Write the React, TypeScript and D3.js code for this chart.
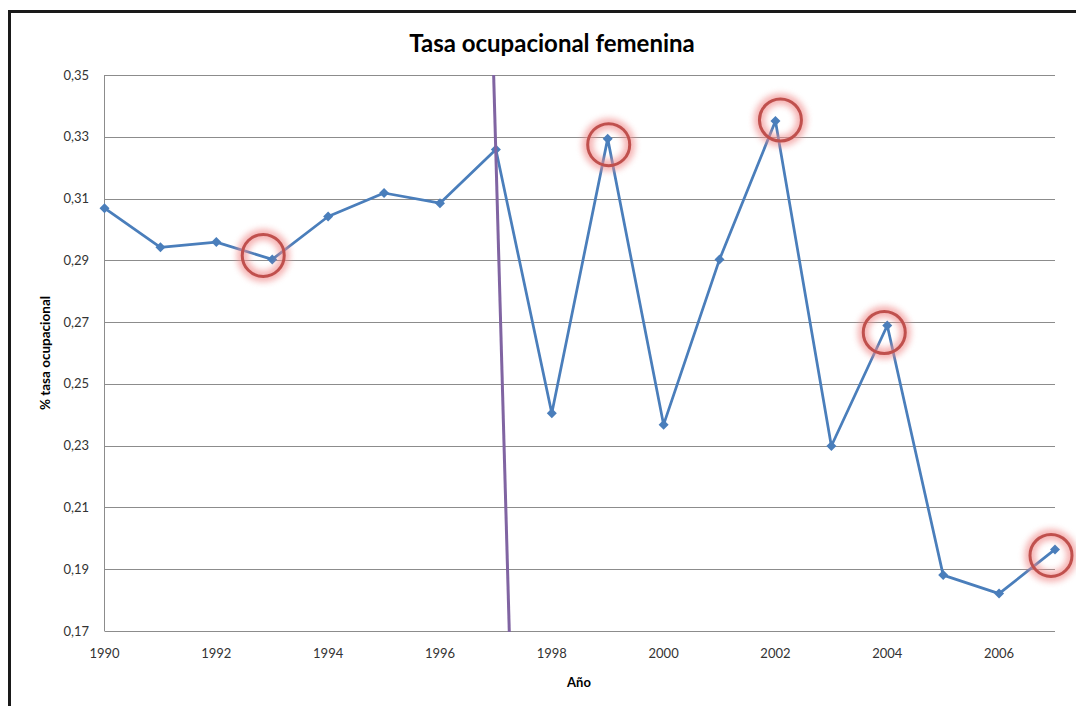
import * as d3 from "d3";

const years = [1990, 1991, 1992, 1993, 1994, 1995, 1996, 1997, 1998, 1999, 2000, 2001, 2002, 2003, 2004, 2005, 2006, 2007];
const rates = [0.3069, 0.2942, 0.2959, 0.2903, 0.3042, 0.3118, 0.3085, 0.3259, 0.2405, 0.3294, 0.2368, 0.2903, 0.3351, 0.2299, 0.2689, 0.1881, 0.1821, 0.1964];

const yTicks = [0.17, 0.19, 0.21, 0.23, 0.25, 0.27, 0.29, 0.31, 0.33, 0.35];
const xTicks = [1990, 1992, 1994, 1996, 1998, 2000, 2002, 2004, 2006];

// highlighted years (red circles) and the slanted marker line near 1997
const circledYears = [1993, 1999, 2002, 2004, 2007];
const circleNudge = [[-9, -4], [1, 6], [5, -1], [-3, 7], [-4, 6]];
const markerLine = { top: 1996.96, bottom: 1997.24 };

const W = 1076;
const H = 706;
const left = 104.5;
const right = 1055;
const top = 75;
const bottom = 631;

const fmt = (v: number) => v.toFixed(2).replace(".", ",");
const font = "Lato, 'Open Sans', sans-serif";

export default function App() {
    const x = d3.scaleLinear().domain([1990, 2007]).range([left, right]);
    const y = d3.scaleLinear().domain([0.17, 0.35]).range([bottom, top]);

    const pts = years.map((yr, i) => [x(yr), y(rates[i])] as [number, number]);
    const line = d3.line()(pts) || "";
    const diamond = d3.symbol(d3.symbolSquare, 50)() || "";

    return (
        <svg width={W} height={H} style={{ position: "absolute", left: 0, top: 0, background: "#fff" }}>
            <defs>
                <filter id="glow" x="-50%" y="-50%" width="200%" height="200%">
                    <feGaussianBlur stdDeviation="3" />
                </filter>
            </defs>
            <rect x={9.5} y={11.5} width={1200} height={900} fill="none" stroke="#1a1a1a" strokeWidth={3} />

            <text x={552} y={52} textAnchor="middle" fontFamily={font} fontWeight="bold" fontSize={24} fill="#000">
                Tasa ocupacional femenina
            </text>

            {yTicks.map((t) => (
                <g key={t}>
                    <line x1={left} x2={right} y1={Math.round(y(t)) + 0.5} y2={Math.round(y(t)) + 0.5} stroke="#8c8c8c" strokeWidth={1} />
                    <text x={89} y={y(t)} dy="0.35em" textAnchor="end" fontFamily={font} fontSize={13} fill="#333">
                        {fmt(t)}
                    </text>
                </g>
            ))}
            <line x1={left} x2={left} y1={top} y2={bottom} stroke="#8c8c8c" strokeWidth={1} />

            {xTicks.map((t) => (
                <text key={t} x={x(t)} y={658} textAnchor="middle" fontFamily={font} fontSize={13} fill="#333">
                    {t}
                </text>
            ))}

            <text x={579} y={687} textAnchor="middle" fontFamily={font} fontWeight="bold" fontSize={13} fill="#000">
                Año
            </text>
            <text transform="translate(50,353) rotate(-90)" textAnchor="middle" fontFamily={font} fontWeight="bold" fontSize={13.5} fill="#000">
                % tasa ocupacional
            </text>

            <path d={line} fill="none" stroke="#4a7ebb" strokeWidth={2.75} strokeLinejoin="round" />
            {pts.map(([px, py], i) => (
                <path key={i} d={diamond} transform={`translate(${px},${py}) rotate(45)`} fill="#4a7ebb" />
            ))}

            <line x1={x(markerLine.top)} y1={top} x2={x(markerLine.bottom)} y2={bottom + 1} stroke="#8064a2" strokeWidth={3} />

            {circledYears.map((yr, i) => {
                const idx = years.indexOf(yr);
                const cx = x(yr) + circleNudge[i][0];
                const cy = y(rates[idx]) + circleNudge[i][1];
                return (
                    <g key={yr}>
                        <circle cx={cx} cy={cy} r={21} fill="none" stroke="#f08a8a" strokeWidth={11} opacity={0.65} filter="url(#glow)" />
                        <circle cx={cx} cy={cy} r={21} fill="none" stroke="#c0504d" strokeWidth={3} />
                    </g>
                );
            })}
        </svg>
    );
}
